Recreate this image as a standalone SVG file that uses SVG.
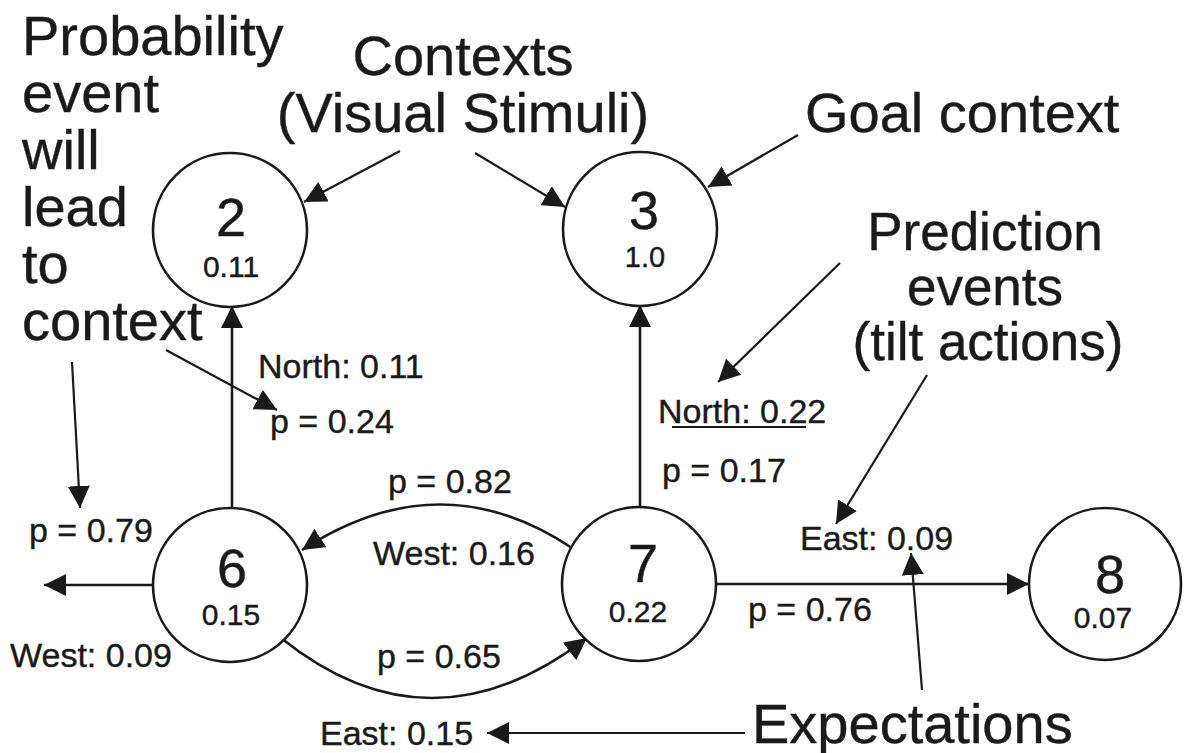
<svg xmlns="http://www.w3.org/2000/svg" width="1184" height="753" viewBox="0 0 1184 753">
<style>
text{font-family:"Liberation Sans",Arial,Helvetica,sans-serif;fill:#1a1a1a;stroke:#1a1a1a;stroke-width:0.4}
.big{font-size:56px}
.mid{font-size:53px;text-anchor:middle}
.lbl{font-size:34px}
.num{font-size:54px;text-anchor:middle}
.val{font-size:30px;text-anchor:middle}
.node{fill:#fff;stroke:#1a1a1a;stroke-width:2.6}
.edge{fill:none;stroke:#1a1a1a;stroke-width:2.6}
.ann{fill:none;stroke:#1a1a1a;stroke-width:2.2}
</style>
<defs>
<marker id="ah" markerUnits="userSpaceOnUse" viewBox="0 0 22 22" markerWidth="22" markerHeight="22" refX="22" refY="11" orient="auto">
<path d="M0,0 L22,11 L0,22 z" fill="#1a1a1a"/>
</marker>
</defs>
<rect width="1184" height="753" fill="#fff"/>

<g id="connectors">
<line class="edge" x1="232" y1="508" x2="232" y2="306" marker-end="url(#ah)"/>
<line class="edge" x1="640" y1="507" x2="640" y2="305" marker-end="url(#ah)"/>
<line class="edge" x1="153" y1="585" x2="44" y2="585" marker-end="url(#ah)"/>
<line class="edge" x1="716" y1="584" x2="1029" y2="584" stroke-width="4.2" marker-end="url(#ah)"/>
<path class="edge" d="M572,548 Q440,460 302,550" marker-end="url(#ah)"/>
<path class="edge" d="M281,638 Q430,758 587,638" marker-end="url(#ah)"/>
<line class="ann" x1="400" y1="151" x2="304" y2="202" marker-end="url(#ah)"/>
<line class="ann" x1="475" y1="153" x2="565" y2="207" marker-end="url(#ah)"/>
<line class="ann" x1="798" y1="135" x2="708" y2="187" marker-end="url(#ah)"/>
<line class="ann" x1="840" y1="263" x2="718" y2="382" marker-end="url(#ah)"/>
<line class="ann" x1="927" y1="375" x2="836" y2="524" marker-end="url(#ah)"/>
<line class="ann" x1="166" y1="350" x2="277" y2="410" marker-end="url(#ah)"/>
<line class="ann" x1="72" y1="362" x2="80" y2="508" marker-end="url(#ah)"/>
<line class="ann" x1="922" y1="690" x2="911" y2="553" marker-end="url(#ah)"/>
<line class="ann" x1="745" y1="733" x2="487" y2="733" marker-end="url(#ah)"/>
<line class="ann" x1="672" y1="427" x2="806" y2="427" stroke-width="1.8"/>
</g>

<g id="node2"><circle class="node" cx="230" cy="230" r="77"/><text class="num" x="231" y="236">2</text><text class="val" x="231" y="277">0.11</text></g>
<g id="node3"><circle class="node" cx="640" cy="229" r="77"/><text class="num" x="644" y="229">3</text><text class="val" x="645" y="267" style="font-size:29px">1.0</text></g>
<g id="node6"><circle class="node" cx="230" cy="585" r="77"/><text class="num" x="232" y="587">6</text><text class="val" x="231" y="625">0.15</text></g>
<g id="node7"><circle class="node" cx="639" cy="584" r="77"/><text class="num" x="643" y="582">7</text><text class="val" x="638" y="622">0.22</text></g>
<g id="node8"><circle class="node" cx="1105" cy="584" r="76"/><text class="num" x="1110" y="593">8</text><text class="val" x="1103" y="628">0.07</text></g>

<g id="annotations">
<text class="big" x="22" y="55">Probability</text>
<text class="big" x="22" y="112">event</text>
<text class="big" x="22" y="169">will</text>
<text class="big" x="22" y="226">lead</text>
<text class="big" x="22" y="283">to</text>
<text class="big" x="22" y="340">context</text>
<text class="big" x="463" y="75" text-anchor="middle">Contexts</text>
<text class="big" x="463" y="132" text-anchor="middle">(Visual Stimuli)</text>
<text class="big" x="805" y="132">Goal context</text>
<text class="mid" x="985" y="250">Prediction</text>
<text class="mid" x="985" y="305">events</text>
<text class="mid" x="988" y="360">(tilt actions)</text>
<text class="big" x="752" y="743">Expectations</text>
</g>

<g id="labels">
<text class="lbl" x="258" y="378">North: 0.11</text>
<text class="lbl" x="270" y="433">p = 0.24</text>
<text class="lbl" x="29" y="542">p = 0.79</text>
<text class="lbl" x="10" y="667">West: 0.09</text>
<text class="lbl" x="388" y="493">p = 0.82</text>
<text class="lbl" x="373" y="565">West: 0.16</text>
<text class="lbl" x="377" y="668">p = 0.65</text>
<text class="lbl" x="320" y="745">East: 0.15</text>
<text class="lbl" x="658" y="423">North: 0.22</text>
<text class="lbl" x="662" y="482">p = 0.17</text>
<text class="lbl" x="800" y="550">East: 0.09</text>
<text class="lbl" x="748" y="621">p = 0.76</text>
</g>
</svg>
